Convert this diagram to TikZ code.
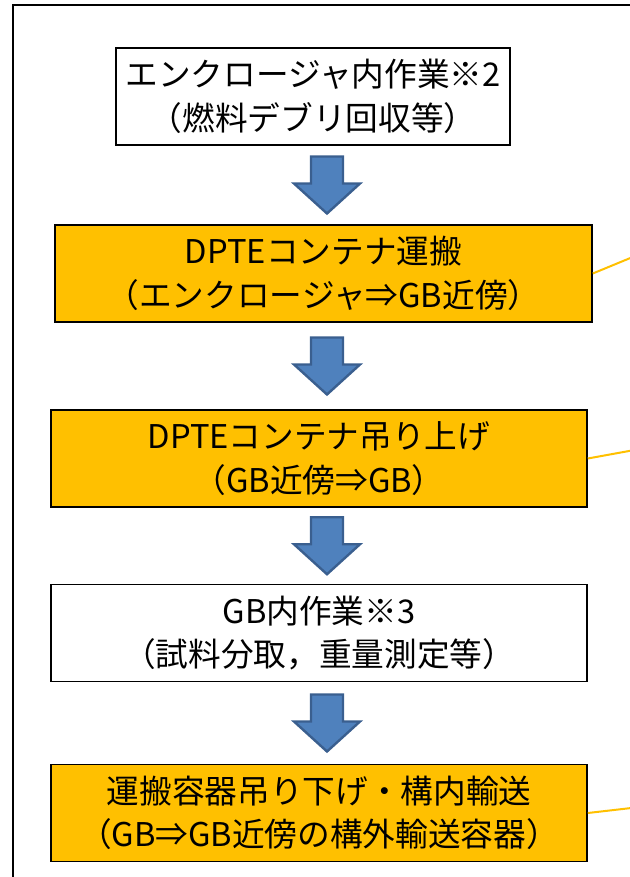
\documentclass[tikz,border=0pt]{standalone}
\usepackage{fontspec}
\setmainfont{Noto Sans CJK JP}
\usetikzlibrary{calc}
\definecolor{boxorange}{HTML}{FFC000}
\definecolor{arrowblue}{HTML}{4F81BD}
\definecolor{arrowedge}{HTML}{3A5F8F}
\tikzset{
    stepbox/.style={draw=black, line width=1.2pt, align=center, inner sep=0pt,
        minimum height=72.75pt, font=\fontsize{24.5}{32.5}\selectfont},
    workbox/.style={stepbox, fill=white},
    movebox/.style={stepbox, fill=boxorange},
    callout/.style={draw=boxorange, line width=1.5pt},
    flowarrow/.pic={
        \filldraw[fill=arrowblue, draw=arrowedge, line width=1.8pt, line join=miter]
            (-16,-28.5) -- (16,-28.5) -- (16,-1.5) -- (33,-1.5) -- (0,28.5)
            -- (-33,-1.5) -- (-16,-1.5) -- cycle;
    }
}
\begin{document}
\begin{tikzpicture}[x=0.75pt, y=-0.75pt]
\useasboundingbox (0,0) rectangle (630,877);
\clip (0,0) rectangle (630,877);

% outer frame
\draw[line width=1.5pt] (13,5) rectangle (660,900);

% steps
\node[workbox, minimum width=295.5pt] (b1) at (313,96.5)
    {エンクロージャ内作業※2\\（燃料デブリ回収等）};
\node[movebox, minimum width=402.75pt] (b2) at (323.5,273.5)
    {DPTEコンテナ運搬\\（エンクロージャ⇒GB近傍）};
\node[movebox, minimum width=402pt] (b3) at (319,458.5)
    {DPTEコンテナ吊り上げ\\（GB近傍⇒GB）};
\node[workbox, minimum width=402pt] (b4) at (319,633)
    {GB内作業※3\\（試料分取，重量測定等）};
\node[movebox, minimum width=402pt] (b5) at (319,813)
    {運搬容器吊り下げ・構内輸送\\（GB⇒GB近傍の構外輸送容器）};

% arrows between steps
\coordinate (a1) at ($(b1.south)!0.5!(b2.north)$);
\coordinate (a2) at ($(b2.south)!0.5!(b3.north)$);
\coordinate (a3) at ($(b3.south)!0.5!(b4.north)$);
\coordinate (a4) at ($(b4.south)!0.5!(b5.north)$);
\foreach \a in {a1,a2,a3,a4}
    \pic at (\a -| 327,0) {flowarrow};

% callout lines
\coordinate (c2) at (640,254);
\coordinate (c3) at (640,449);
\coordinate (c5) at (640,807);
\draw[callout] (b2.east) -- (c2);
\draw[callout] (b3.east) -- (c3);
\draw[callout] (b5.east) -- (c5);

\end{tikzpicture}
\end{document}
